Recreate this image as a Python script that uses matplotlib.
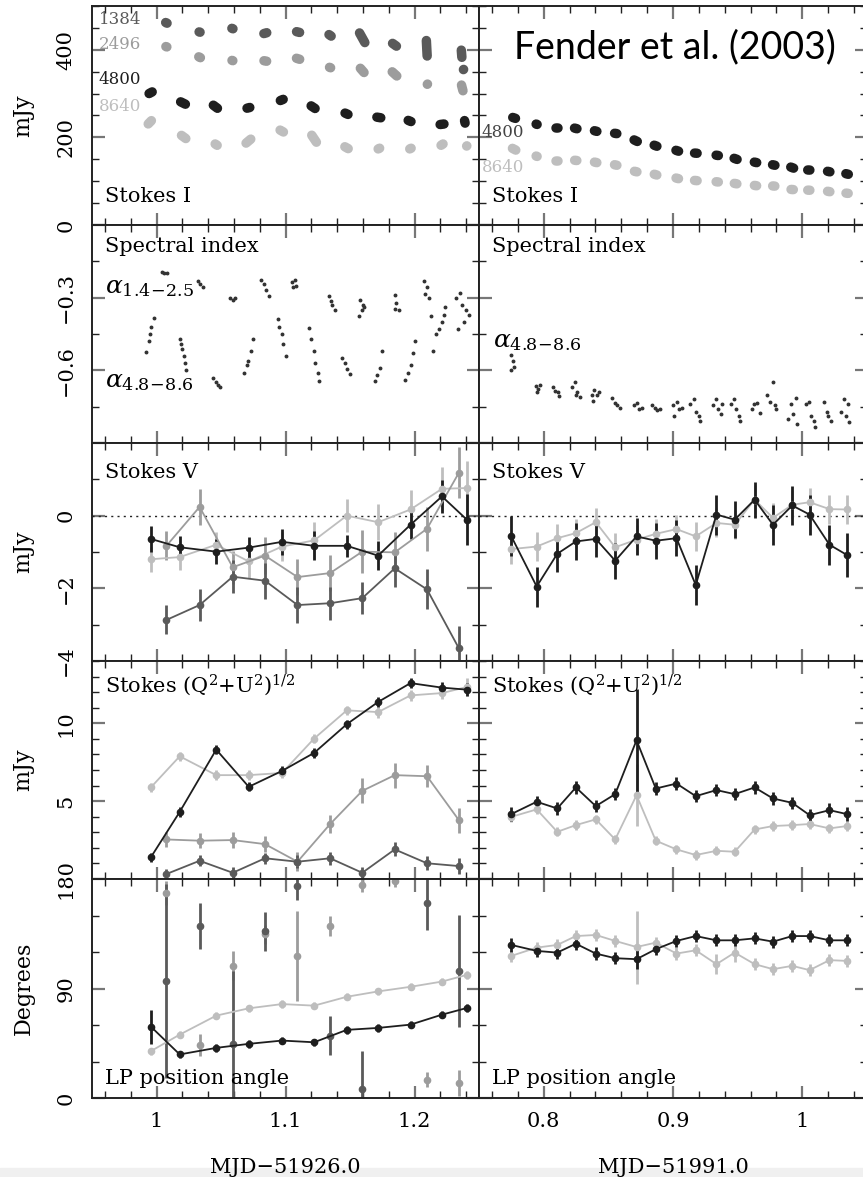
import numpy as np
import matplotlib.pyplot as plt
from matplotlib.ticker import MultipleLocator
from matplotlib.patches import Rectangle

plt.rcParams['font.family'] = 'DejaVu Serif'
plt.rcParams['mathtext.fontset'] = 'dejavuserif'

# colours per frequency (MHz)
c1384 = '#5a5a5a'
c2496 = '#9c9c9c'
c4800 = '#1e1e1e'
c8640 = '#bebebe'

# time grids
t_left_a = [0.9956, 1.018, 1.0463, 1.0715, 1.0973, 1.1222, 1.1475, 1.1718, 1.1969, 1.2213, 1.2406]   # 4800 / 8640
t_left_b = [1.0077, 1.0334, 1.0591, 1.0841, 1.1093, 1.1346, 1.1595, 1.1847, 1.2097, 1.2344]          # 1384 / 2496
t_right = [0.775, 0.7946, 0.8105, 0.8249, 0.8403, 0.8553, 0.8718, 0.8867, 0.9027, 0.9176,
           0.9336, 0.9477, 0.9631, 0.9773, 0.9922, 1.0056, 1.021, 1.0344]

# Stokes I: visible extent of each short scan (x0, y0, x1, y1) in mJy
I1384_left = [(1.0038, 467, 1.0115, 456), (1.0295, 444, 1.0373, 437), (1.055, 453, 1.0627, 444),
              (1.0797, 434, 1.089, 442), (1.105, 444, 1.1145, 437), (1.1307, 441, 1.1384, 425),
              (1.1556, 448, 1.1633, 407), (1.18, 421, 1.189, 402), (1.209, 432, 1.210, 375),
              (1.236, 410, 1.237, 372), (1.2378, 357, 1.2382, 353)]
I2496_left = [(1.0038, 411, 1.0115, 403), (1.0295, 389, 1.0373, 377), (1.055, 379, 1.0627, 372),
              (1.0797, 377, 1.089, 372), (1.105, 384, 1.1145, 375), (1.1307, 364, 1.1384, 355),
              (1.1556, 366, 1.1633, 340), (1.18, 357, 1.189, 333), (1.2085, 327, 1.2115, 316),
              (1.2355, 330, 1.2385, 296)]
I4800_left = [(0.991, 295, 0.9999, 309), (1.0154, 286, 1.0257, 271), (1.0411, 280, 1.0502, 260),
              (1.0666, 264, 1.0759, 271), (1.0926, 280, 1.1016, 291), (1.1168, 278, 1.126, 260),
              (1.1428, 260, 1.1518, 248), (1.1672, 248, 1.1775, 243), (1.1917, 243, 1.2007, 232),
              (1.2162, 228, 1.2265, 232), (1.238, 249, 1.240, 222)]
I8640_left = [(0.991, 223, 0.9986, 246), (1.0164, 211, 1.0257, 191), (1.0424, 191, 1.0501, 176),
              (1.0666, 180, 1.0759, 203), (1.0926, 222, 1.1016, 207), (1.1183, 214, 1.126, 180),
              (1.1428, 184, 1.1518, 169), (1.1685, 169, 1.1763, 180), (1.193, 169, 1.2007, 180),
              (1.2175, 176, 1.2252, 191), (1.238, 177, 1.243, 184)]
I4800_right = [(0.7726, 249, 0.7817, 240), (0.7907, 234, 0.7984, 226), (0.8061, 222, 0.8151, 222),
               (0.8203, 224, 0.8293, 217), (0.8357, 218, 0.8447, 211), (0.8512, 211, 0.8602, 207),
               (0.8666, 199, 0.8757, 186), (0.882, 186, 0.891, 176), (0.8988, 174, 0.9078, 165),
               (0.913, 165, 0.9223, 163), (0.9297, 161, 0.9387, 157), (0.9438, 156, 0.953, 146),
               (0.9593, 146, 0.9683, 140), (0.9734, 140, 0.9824, 134), (0.9876, 136, 0.9967, 126),
               (1.0005, 126, 1.0095, 125), (1.0159, 125, 1.0249, 119), (1.0301, 120, 1.0391, 113)]
I8640_right = [(0.7726, 180, 0.7817, 166), (0.7907, 161, 0.7984, 153), (0.8061, 146, 0.8151, 146),
               (0.8203, 149, 0.8293, 146), (0.8357, 146, 0.8447, 140), (0.8512, 140, 0.8602, 134),
               (0.8666, 125, 0.8757, 119), (0.882, 119, 0.891, 111), (0.8988, 110, 0.9078, 103),
               (0.913, 103, 0.9223, 100), (0.9297, 100, 0.9387, 97), (0.9438, 97, 0.953, 92),
               (0.9593, 92, 0.9683, 88), (0.9734, 90, 0.9824, 88), (0.9876, 82, 0.9967, 80),
               (1.0005, 80, 1.0095, 79), (1.0159, 79, 1.0249, 74), (1.0301, 74, 1.0391, 71)]

# spectral index points
a14_left_x = [1.004, 1.006, 1.008, 1.032, 1.034, 1.036, 1.057, 1.059, 1.061, 1.081, 1.083, 1.085, 1.087,
              1.105, 1.107, 1.108, 1.106, 1.134, 1.135, 1.136, 1.138, 1.158, 1.160, 1.159, 1.157, 1.161,
              1.185, 1.186, 1.185, 1.188, 1.207, 1.210, 1.208, 1.211, 1.213,
              1.232, 1.235, 1.237, 1.240, 1.238, 1.234, 1.242]
a14_left_y = [-0.195, -0.197, -0.198, -0.232, -0.245, -0.258, -0.300, -0.308, -0.303, -0.225, -0.245, -0.268, -0.295,
              -0.236, -0.226, -0.250, -0.255, -0.295, -0.315, -0.330, -0.350, -0.310, -0.330, -0.350, -0.377, -0.340,
              -0.288, -0.320, -0.345, -0.350, -0.233, -0.255, -0.285, -0.300, -0.377,
              -0.300, -0.280, -0.330, -0.350, -0.400, -0.430, -0.370]
a48_left_x = [0.992, 0.994, 0.995, 0.996, 0.998, 1.018, 1.019, 1.020, 1.021, 1.022, 1.023,
              1.044, 1.046, 1.048, 1.049, 1.068, 1.070, 1.071, 1.073, 1.075,
              1.094, 1.095, 1.097, 1.098, 1.100, 1.118, 1.120, 1.122, 1.123, 1.125, 1.126,
              1.144, 1.146, 1.148, 1.150, 1.169, 1.171, 1.173, 1.175,
              1.193, 1.195, 1.197, 1.199, 1.200, 1.214, 1.217, 1.219, 1.221, 1.224, 1.223]
a48_left_y = [-0.525, -0.480, -0.450, -0.420, -0.385, -0.470, -0.490, -0.510, -0.540, -0.570, -0.600,
              -0.630, -0.650, -0.660, -0.670, -0.610, -0.580, -0.560, -0.520, -0.470,
              -0.390, -0.420, -0.450, -0.490, -0.540, -0.425, -0.470, -0.520, -0.570, -0.610, -0.645,
              -0.548, -0.570, -0.595, -0.617, -0.645, -0.620, -0.590, -0.520,
              -0.638, -0.610, -0.580, -0.530, -0.480, -0.520, -0.450, -0.430, -0.400, -0.340, -0.370]
a48_right_x = [0.775, 0.776, 0.777, 0.775, 0.794, 0.796, 0.797, 0.795, 0.807, 0.809, 0.811, 0.812,
               0.822, 0.824, 0.826, 0.828, 0.825, 0.837, 0.839, 0.841, 0.843, 0.838,
               0.853, 0.855, 0.857, 0.859, 0.870, 0.872, 0.874, 0.876, 0.884, 0.886, 0.888, 0.890,
               0.900, 0.903, 0.905, 0.907, 0.901, 0.913, 0.916, 0.918, 0.920, 0.921,
               0.931, 0.933, 0.935, 0.937, 0.938, 0.945, 0.947, 0.949, 0.951, 0.952,
               0.961, 0.963, 0.965, 0.967, 0.973, 0.975, 0.977, 0.979, 0.980,
               0.989, 0.991, 0.993, 0.995, 0.996, 1.003, 1.005, 1.007, 1.009, 1.010,
               1.017, 1.019, 1.020, 1.022, 1.030, 1.032, 1.034, 1.036, 1.035]
a48_right_y = [-0.535, -0.560, -0.585, -0.597, -0.665, -0.675, -0.660, -0.690, -0.670, -0.685, -0.690, -0.705,
               -0.670, -0.650, -0.690, -0.710, -0.700, -0.700, -0.680, -0.700, -0.690, -0.725,
               -0.715, -0.735, -0.745, -0.755, -0.745, -0.735, -0.760, -0.755, -0.745, -0.755, -0.765, -0.760,
               -0.745, -0.730, -0.760, -0.755, -0.790, -0.740, -0.720, -0.770, -0.790, -0.810,
               -0.745, -0.720, -0.760, -0.780, -0.740, -0.740, -0.720, -0.760, -0.790, -0.810,
               -0.760, -0.740, -0.735, -0.775, -0.700, -0.730, -0.650, -0.745, -0.760,
               -0.800, -0.740, -0.780, -0.715, -0.820, -0.740, -0.730, -0.790, -0.810, -0.835,
               -0.730, -0.770, -0.790, -0.810, -0.770, -0.720, -0.790, -0.815, -0.740]

# Stokes V (mJy)
V4800_left = [-0.64, -0.87, -0.99, -0.88, -0.72, -0.83, -0.83, -1.10, -0.25, 0.53, -0.11]
V4800_left_err = [0.35, 0.3, 0.35, 0.3, 0.35, 0.4, 0.3, 0.4, 0.4, 0.45, 0.7]
V8640_left = [-1.20, -1.14, -0.80, -1.26, -0.85, -0.68, 0.0, -0.18, 0.17, 0.74, 0.76]
V8640_left_err = [0.35, 0.35, 0.35, 0.45, 0.4, 0.5, 0.45, 0.5, 0.55, 0.6, 0.75]
V2496_left = [-0.83, 0.24, -1.42, -1.10, -1.69, -1.58, -0.99, -1.01, -0.36, 1.18]
V2496_left_err = [0.4, 0.5, 0.45, 0.5, 0.5, 0.5, 0.6, 0.55, 0.6, 0.7]
V1384_left = [-2.87, -2.46, -1.68, -1.79, -2.46, -2.41, -2.27, -1.45, -2.03, -3.65]
V1384_left_err = [0.4, 0.45, 0.45, 0.5, 0.5, 0.45, 0.45, 0.5, 0.55, 0.6]
V4800_right = [-0.57, -1.95, -1.05, -0.71, -0.64, -1.24, -0.57, -0.69, -0.62, -1.91,
               0.03, -0.11, 0.44, -0.25, 0.28, 0.03, -0.80, -1.08]
V4800_right_err = [0.55, 0.55, 0.5, 0.5, 0.5, 0.5, 0.5, 0.5, 0.5, 0.55,
                   0.55, 0.5, 0.5, 0.55, 0.55, 0.55, 0.55, 0.6]
V8640_right = [-0.92, -0.85, -0.62, -0.48, -0.18, -0.87, -0.66, -0.50, -0.37, -0.57,
               -0.20, -0.25, 0.44, -0.06, 0.30, 0.37, 0.18, 0.17]
V8640_right_err = [0.4] * 18

# linear polarisation (mJy)
P4800_left = [1.39, 4.31, 8.31, 5.92, 6.94, 8.10, 9.94, 11.37, 12.58, 12.29, 12.16]
P4800_left_err = [0.3, 0.3, 0.3, 0.3, 0.3, 0.3, 0.3, 0.3, 0.3, 0.35, 0.4]
P8640_left = [5.88, 7.88, 6.67, 6.67, 6.81, 9.02, 10.83, 10.72, 11.79, 11.94, 12.33]
P8640_left_err = [0.3, 0.3, 0.3, 0.3, 0.3, 0.3, 0.3, 0.35, 0.35, 0.4, 0.6]
P2496_left = [2.54, 2.46, 2.50, 2.24, 1.11, 3.53, 5.66, 6.67, 6.60, 3.78]
P2496_left_err = [0.5, 0.5, 0.5, 0.5, 0.6, 0.6, 0.8, 0.8, 0.7, 0.8]
P1384_left = [0.32, 1.17, 0.40, 1.33, 1.11, 1.33, 0.40, 1.90, 1.01, 0.83]
P1384_left_err = [0.35, 0.35, 0.35, 0.35, 0.4, 0.4, 0.4, 0.45, 0.45, 0.5]
P4800_right = [4.17, 4.96, 4.53, 5.88, 4.68, 5.45, 8.91, 5.81, 6.13, 5.32,
               5.71, 5.45, 5.88, 5.17, 4.89, 4.10, 4.42, 4.17]
P4800_right_err = [0.45, 0.4, 0.4, 0.4, 0.4, 0.4, 3.3, 0.4, 0.4, 0.4,
                   0.4, 0.4, 0.4, 0.4, 0.4, 0.4, 0.45, 0.45]
P8640_right = [3.99, 4.47, 3.03, 3.46, 3.83, 2.54, 5.38, 2.46, 1.90, 1.54,
               1.81, 1.75, 3.18, 3.40, 3.46, 3.53, 3.25, 3.40]
P8640_right_err = [0.3, 0.3, 0.3, 0.3, 0.3, 0.3, 2.0, 0.3, 0.3, 0.3,
                   0.3, 0.3, 0.3, 0.3, 0.3, 0.3, 0.3, 0.3]

# LP position angle (degrees)
PA4800_left = [58.7, 35.8, 41.2, 44.5, 47.2, 45.8, 56.0, 57.6, 60.3, 68.5, 74.0]
PA4800_left_err = [14, 3, 3, 3, 3, 3, 3, 3, 3, 3, 3]
PA8640_left = [38.5, 52.1, 67.7, 73.7, 77.2, 75.9, 83.2, 87.6, 91.4, 95.7, 101.2]
PA8640_left_err = [3, 3, 3, 3, 3, 3, 3, 3, 3, 3, 3]
PA2496_left = [168.6, 43.9, 108.6, 134.5, 116.8, 141.3, 175.4, 178.2, 15.0, 12.3]
PA2496_left_err = [10, 9, 12, 8, 37, 8, 6, 5, 6, 11]
PA1384_left = [96.3, 141.3, 44.5, 137.2, 174.1, 51.3, 7.7, np.nan, 159.9, 104.5]
PA1384_left_err = [80, 19, 60, 16, 11, 16, 31, 0, 22, 46]
PA4800_right = [125.8, 120.9, 119.5, 126.8, 118.7, 114.9, 114.1, 122.3, 129.1, 133.1,
                129.6, 129.6, 131.2, 128.5, 133.1, 133.1, 129.6, 129.6]
PA4800_right_err = [6, 5, 5, 5, 5, 5, 8, 5, 5, 5, 5, 5, 5, 5, 5, 5, 5, 5]
PA8640_right = [116.8, 123.6, 125.8, 133.1, 134.0, 129.1, 124.1, 127.7, 118.7, 121.4,
                110.0, 119.5, 110.0, 105.9, 108.6, 105.1, 113.3, 112.7]
PA8640_right_err = [5, 5, 5, 5, 5, 5, 30, 5, 5, 5, 8, 8, 5, 5, 5, 5, 5, 5]

# ---------------------------------------------------------------
W, H = 863, 1177
fig = plt.figure(figsize=(W / 100, H / 100), dpi=100)
fig.patches.append(Rectangle((0, 0), 1, 9 / H, transform=fig.transFigure,
                             color='#f0f0f0', zorder=-1))

tops = [6, 225, 443, 661, 879]
bots = [225, 443, 661, 879, 1098]
cols = [(92, 479), (479, 867)]
axes = []
for r in range(5):
    row = []
    for c in range(2):
        x0, x1 = cols[c]
        ax = fig.add_axes([x0 / W, 1 - bots[r] / H, (x1 - x0) / W, (bots[r] - tops[r]) / H])
        row.append(ax)
    axes.append(row)

ylims = [(0, 500), (-0.9, 0.0), (-4, 2), (0, 14), (0, 180)]
yminor = [50, 0.15, 1, 1, 30]
yticks = [[0, 200, 400], [-0.9, -0.6, -0.3, 0.0], [-4, -2, 0, 2], [0, 5, 10], [0, 90, 180]]
ytlabels = [['0', '200', '400'], ['', '\u22120.6', '\u22120.3', ''], ['\u22124', '\u22122', '0', ''],
            ['', '5', '10'], ['0', '90', '180']]
ylabels = ['mJy', '', 'mJy', 'mJy', 'Degrees']

for r in range(5):
    for c in range(2):
        ax = axes[r][c]
        ax.set_xlim((0.95, 1.25) if c == 0 else (0.75, 1.05))
        ax.set_ylim(*ylims[r])
        ax.xaxis.set_major_locator(MultipleLocator(0.1))
        ax.xaxis.set_minor_locator(MultipleLocator(0.02))
        ax.yaxis.set_minor_locator(MultipleLocator(yminor[r]))
        ax.set_yticks(yticks[r])
        ax.tick_params(which='both', direction='in', top=True, right=True)
        ax.tick_params(which='major', length=9, width=1.6, color='#777777')
        ax.tick_params(which='minor', length=5, width=1.0, color='#222222')
        ax.tick_params(axis='y', labelrotation=90, labelsize=15, pad=12)
        ax.tick_params(axis='x', labelsize=15, pad=10)
        for s in ax.spines.values():
            s.set_linewidth(1.4)
            s.set_color('#222222')
        if c == 0:
            ax.set_yticklabels(ytlabels[r], va='center')
            if ylabels[r]:
                ax.set_ylabel(ylabels[r], fontsize=16)
                ax.yaxis.set_label_coords(-0.148, 0.5)
        else:
            ax.set_yticklabels([])
        if r < 4:
            ax.set_xticklabels([])

axes[4][0].set_xticks([1.0, 1.1, 1.2])
axes[4][0].set_xticklabels(['1', '1.1', '1.2'])
axes[4][1].set_xticks([0.8, 0.9, 1.0])
axes[4][1].set_xticklabels(['0.8', '0.9', '1'])
for c, lab in enumerate(['MJD\u221251926.0', 'MJD\u221251991.0']):
    axes[4][c].set_xlabel(lab, fontsize=15)
    axes[4][c].xaxis.set_label_coords(0.5, -0.272)

SCAN_W = 9.5  # px, thickness of the thick scan strokes


def scans(ax, segs, color):
    # the stored extents include the round caps; pull the centre line in by one cap radius
    r = SCAN_W / 2
    for x0, y0, x1, y1 in segs:
        p0, p1 = ax.transData.transform([(x0, y0), (x1, y1)])
        d = p1 - p0
        L = np.hypot(*d)
        if L > 2 * r:
            u = d / L
            p0, p1 = p0 + u * r, p1 - u * r
        else:
            m = (p0 + p1) / 2
            p0, p1 = m - 0.1, m + 0.1
        (a, b), (c, e) = ax.transData.inverted().transform([p0, p1])
        ax.plot([a, c], [b, e], color=color, lw=SCAN_W * 0.72, solid_capstyle='round')


def series(ax, x, y, e, color, line=True):
    ax.errorbar(x, y, yerr=e, fmt='-o' if line else 'o', color=color, ms=4.5, lw=1.3,
                elinewidth=2.0, capsize=0)


# row 0: Stokes I
ax = axes[0][0]
scans(ax, I8640_left, c8640)
scans(ax, I2496_left, c2496)
scans(ax, I1384_left, c1384)
scans(ax, I4800_left, c4800)
for lab, yy, col in [('1384', 470, c1384), ('2496', 412, c2496), ('4800', 333, c4800), ('8640', 270, c8640)]:
    ax.text(0.955, yy, lab, color=col, fontsize=12, va='center')
ax.text(0.034, 0.128, 'Stokes I', transform=ax.transAxes, fontsize=15, va='center')
ax = axes[0][1]
scans(ax, I8640_right, c8640)
scans(ax, I4800_right, c4800)
ax.text(0.752, 212, '4800', color='#444444', fontsize=12, va='center')
ax.text(0.752, 132, '8640', color=c8640, fontsize=12, va='center')
ax.text(0.034, 0.128, 'Stokes I', transform=ax.transAxes, fontsize=15, va='center')

# row 1: spectral index
ax = axes[1][0]
ax.plot(a14_left_x, a14_left_y, 'o', color='#333333', ms=1.8)
ax.plot(a48_left_x, a48_left_y, 'o', color='#333333', ms=1.8)
ax.text(0.034, 0.9, 'Spectral index', transform=ax.transAxes, fontsize=15, va='center')
ax.text(0.96, -0.26, r'$\alpha_{1.4\!-\!2.5}$', fontsize=18, va='center')
ax.text(0.96, -0.645, r'$\alpha_{4.8\!-\!8.6}$', fontsize=18, va='center')
ax = axes[1][1]
ax.plot(a48_right_x, a48_right_y, 'o', color='#333333', ms=1.8)
ax.text(0.034, 0.9, 'Spectral index', transform=ax.transAxes, fontsize=15, va='center')
ax.text(0.761, -0.48, r'$\alpha_{4.8\!-\!8.6}$', fontsize=18, va='center')

# row 2: Stokes V
ax = axes[2][0]
ax.axhline(0, color='#222222', lw=1.0, ls=(0, (1.5, 3)))
series(ax, t_left_a, V8640_left, V8640_left_err, c8640)
series(ax, t_left_b, V2496_left, V2496_left_err, c2496)
series(ax, t_left_b, V1384_left, V1384_left_err, c1384)
series(ax, t_left_a, V4800_left, V4800_left_err, c4800)
ax.text(0.034, 0.864, 'Stokes V', transform=ax.transAxes, fontsize=15, va='center')
ax = axes[2][1]
ax.axhline(0, color='#222222', lw=1.0, ls=(0, (1.5, 3)))
series(ax, t_right, V8640_right, V8640_right_err, c8640)
series(ax, t_right, V4800_right, V4800_right_err, c4800)
ax.text(0.034, 0.864, 'Stokes V', transform=ax.transAxes, fontsize=15, va='center')

# row 3: linear polarisation
ax = axes[3][0]
series(ax, t_left_a, P8640_left, P8640_left_err, c8640)
series(ax, t_left_b, P2496_left, P2496_left_err, c2496)
series(ax, t_left_b, P1384_left, P1384_left_err, c1384)
series(ax, t_left_a, P4800_left, P4800_left_err, c4800)
ax.text(0.034, 0.89, r'Stokes (Q$^2$+U$^2$)$^{1/2}$', transform=ax.transAxes, fontsize=15, va='center')
ax = axes[3][1]
series(ax, t_right, P8640_right, P8640_right_err, c8640)
series(ax, t_right, P4800_right, P4800_right_err, c4800)
ax.text(0.034, 0.89, r'Stokes (Q$^2$+U$^2$)$^{1/2}$', transform=ax.transAxes, fontsize=15, va='center')

# row 4: position angle
ax = axes[4][0]
series(ax, t_left_b, PA2496_left, PA2496_left_err, c2496, line=False)
series(ax, t_left_b, PA1384_left, PA1384_left_err, c1384, line=False)
series(ax, t_left_a, PA8640_left, PA8640_left_err, c8640)
series(ax, t_left_a, PA4800_left, PA4800_left_err, c4800)
ax.text(0.034, 0.087, 'LP position angle', transform=ax.transAxes, fontsize=15, va='center')
ax = axes[4][1]
series(ax, t_right, PA8640_right, PA8640_right_err, c8640)
series(ax, t_right, PA4800_right, PA4800_right_err, c4800)
ax.text(0.034, 0.087, 'LP position angle', transform=ax.transAxes, fontsize=15, va='center')

fig.text(675 / W, 1 - 47 / H, 'Fender et al. (2003)', fontsize=27, family='Lato',
         ha='center', va='center', color='black')

fig.savefig('out.png', dpi=100)
